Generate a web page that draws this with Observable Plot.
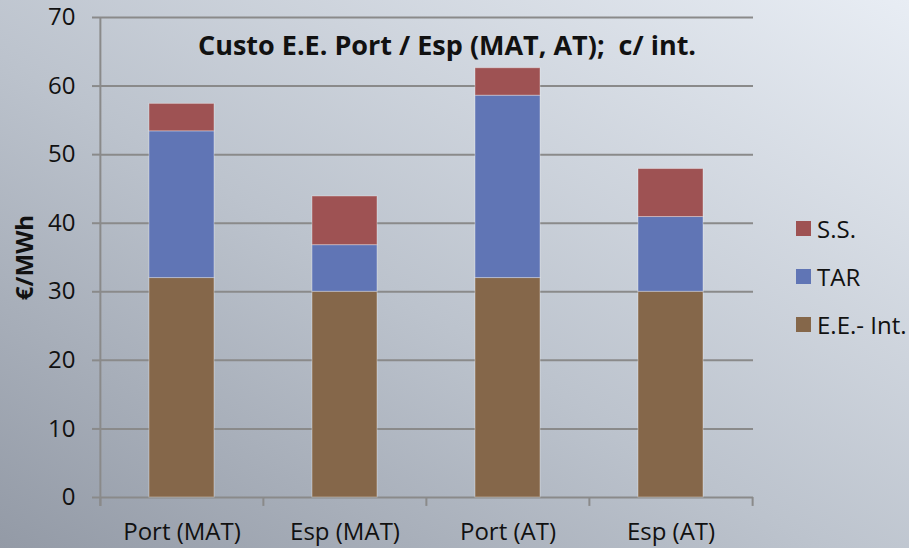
<!DOCTYPE html>
<html>
<head>
<meta charset="utf-8">
<script src="https://cdn.jsdelivr.net/npm/d3@7"></script>
<script src="https://cdn.jsdelivr.net/npm/@observablehq/plot@0.6"></script>
<style>
  html, body { margin: 0; padding: 0; }
  #chart {
    position: relative; width: 909px; height: 548px; overflow: hidden;
    background: linear-gradient(to top right, #939aa6 0%, #bcc3cd 45%, #e8edf4 100%);
    font-family: "Open Sans", sans-serif;
  }
  #chart svg { position: absolute; left: 0; top: 0; }
  .legend { position: absolute; left: 796px; top: 204px; }
  .legend .item { display: flex; align-items: center; height: 48px; font-size: 24px; color: #111; }
  .legend .sw { width: 15px; height: 15px; margin-right: 6px; }
</style>
</head>
<body>
<div id="chart"></div>
<script>
const categories = ["Port (MAT)", "Esp (MAT)", "Port (AT)", "Esp (AT)"];
const seriesNames = ["E.E.- Int.", "TAR", "S.S."];
const eeInt = [32, 30, 32, 30];
const tar = [21.4, 6.8, 26.6, 10.9];
const ss = [4.0, 7.1, 4.0, 7.0];
const yTicks = [0, 10, 20, 30, 40, 50, 60, 70];
const colors = ["#85674A", "#6075B5", "#9E5253"];
const titleText = "Custo E.E. Port / Esp (MAT, AT);  c/ int.";
const yLabel = "€/MWh";

const seriesValues = [eeInt, tar, ss];
const data = [];
seriesNames.forEach((s, si) => {
  categories.forEach((c, ci) => data.push({category: c, series: s, value: seriesValues[si][ci]}));
});

const W = 909, H = 548, mL = 100, mR = 156, mT = 17, mB = 51;
const step = (W - mL - mR) / categories.length;

const chart = Plot.plot({
  width: W, height: H,
  marginLeft: mL, marginRight: mR, marginTop: mT, marginBottom: mB,
  style: {background: "transparent", fontFamily: "Open Sans, sans-serif", fontSize: "24px", color: "#111"},
  x: {domain: categories, paddingInner: 0.6, paddingOuter: 0.3, label: null, axis: null},
  y: {domain: [0, 70], label: null, axis: null},
  color: {domain: seriesNames, range: colors},
  marks: [
    Plot.ruleY(yTicks, {stroke: "#8a8a8a", strokeWidth: 2}),
    Plot.barY(data, {x: "category", y: "value", fill: "series", stroke: "#ffffff", strokeOpacity: 0.35, strokeWidth: 1}),
    // category boundary ticks (Excel style)
    Plot.ruleX(categories, {x: d => d, dx: -step / 2, y1: -1.3, y2: 0, stroke: "#8a8a8a", strokeWidth: 2}),
    Plot.ruleX(categories.slice(-1), {x: d => d, dx: step / 2, y1: -1.3, y2: 0, stroke: "#8a8a8a", strokeWidth: 2}),
    // vertical axis line
    Plot.ruleX(categories.slice(0, 1), {x: d => d, dx: -step / 2, y1: -1.3, y2: 70, stroke: "#8a8a8a", strokeWidth: 2}),
    Plot.axisY({ticks: yTicks, tickSize: 8, tickPadding: 17, stroke: "#8a8a8a", strokeWidth: 2, fill: "#111", fontSize: 24, label: null}),
    Plot.axisX({tickSize: 0, tickPadding: 25, fill: "#111", fontSize: 24, label: null}),
    Plot.text([titleText], {text: d => d, frameAnchor: "top", lineAnchor: "middle", dx: 20, dy: 29, fontWeight: "bold", fontSize: 27, fill: "#111"}),
    Plot.text([yLabel], {text: d => d, frameAnchor: "left", textAnchor: "middle", dx: -75, rotate: -90, fontWeight: "bold", fontSize: 24, fill: "#111"})
  ]
});

const root = document.getElementById("chart");
root.appendChild(chart);

const legend = document.createElement("div");
legend.className = "legend";
[...seriesNames].reverse().forEach(name => {
  const item = document.createElement("div");
  item.className = "item";
  const sw = document.createElement("div");
  sw.className = "sw";
  sw.style.background = colors[seriesNames.indexOf(name)];
  const t = document.createElement("span");
  t.textContent = name;
  item.appendChild(sw); item.appendChild(t);
  legend.appendChild(item);
});
root.appendChild(legend);
</script>
</body>
</html>
